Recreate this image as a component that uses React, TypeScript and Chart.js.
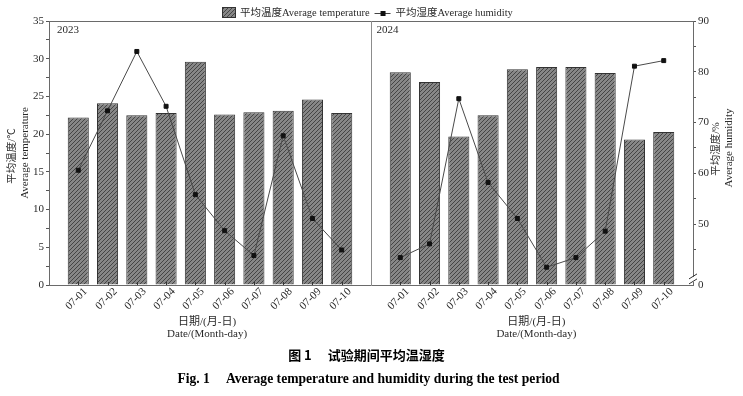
import React, { useEffect, useRef } from 'react';
import { Chart, registerables } from 'chart.js';

Chart.register(...registerables);

// ---- data ----
const dates = ['07-01', '07-02', '07-03', '07-04', '07-05', '07-06', '07-07', '07-08', '07-09', '07-10'];
const years = ['2023', '2024'];
const temp2023 = [22.2, 24.1, 22.5, 22.8, 29.6, 22.6, 22.9, 23.1, 24.6, 22.8];
const temp2024 = [28.2, 26.9, 19.7, 22.5, 28.6, 28.9, 28.9, 28.1, 19.3, 20.3];
const hum2023 = [60.6, 72.3, 84.0, 73.2, 55.8, 48.7, 43.8, 67.4, 51.1, 44.9];
const hum2024 = [43.4, 46.1, 74.7, 58.2, 51.1, 41.5, 43.4, 48.6, 81.1, 82.2];
const humMajorTicks = [50, 60, 70, 80, 90];
const humMinorTicks = [45, 55, 65, 75, 85];
const humBreakValue = 38; // axis is broken; bottom labelled "0"
const tempMax = 35;
const tempStep = 2.5;

const seriesNames = ['平均温度Average temperature', '平均湿度Average humidity'];
const yTitleLeft = ['平均温度/℃', 'Average temperature'];
const yTitleRight = ['平均湿度/%', 'Average humidity'];
const xTitle = ['日期/(月-日)', 'Date/(Month-day)'];

const FONT = '"Liberation Serif", "Noto Sans CJK SC", serif';
const FRAME = '#6a6a6a';
const TEXT = '#2a2a2a';

function makeHatch(): CanvasPattern {
  const c = document.createElement('canvas');
  c.width = 4;
  c.height = 4;
  const g = c.getContext('2d')!;
  g.fillStyle = '#878787';
  g.fillRect(0, 0, 4, 4);
  g.strokeStyle = '#454545';
  g.lineWidth = 1;
  g.beginPath();
  g.moveTo(0, 4);
  g.lineTo(4, 0);
  g.moveTo(-1, 1);
  g.lineTo(1, -1);
  g.moveTo(3, 5);
  g.lineTo(5, 3);
  g.stroke();
  return g.createPattern(c, 'repeat')!;
}

export default function App() {
  const ref = useRef<HTMLCanvasElement>(null);

  useEffect(() => {
    const canvas = ref.current!;
    const hatch = makeHatch();
    const labels = ['', ...dates, '', ...dates, ''];
    const tempData = [null, ...temp2023, null, ...temp2024, null];
    const humData = [null, ...hum2023, null, ...hum2024, null];

    const overlay = {
      id: 'overlay',
      afterDraw(chart: any) {
        const { ctx, chartArea: a, scales } = chart;
        const x = scales.x;
        const y1 = scales.y1;
        ctx.save();
        // top border
        ctx.strokeStyle = FRAME;
        ctx.lineWidth = 1;
        ctx.beginPath();
        ctx.moveTo(a.left, a.top + 0.5);
        ctx.lineTo(a.right, a.top + 0.5);
        ctx.stroke();
        // divider between years
        const divIdx = dates.length + 1;
        const dx = Math.round(x.getPixelForValue(divIdx)) + 0.5;
        ctx.strokeStyle = '#8c8c8c';
        ctx.beginPath();
        ctx.moveTo(dx, a.top);
        ctx.lineTo(dx, a.bottom);
        ctx.stroke();
        // inward x ticks & rotated labels
        ctx.strokeStyle = '#333';
        ctx.fillStyle = TEXT;
        ctx.font = `11px ${FONT}`;
        labels.forEach((lab, i) => {
          if (!lab) return;
          const px = Math.round(x.getPixelForValue(i)) + 0.5;
          ctx.beginPath();
          ctx.moveTo(px, a.bottom);
          ctx.lineTo(px, a.bottom - 3);
          ctx.stroke();
          ctx.save();
          ctx.translate(px - 2, a.bottom + 14);
          ctx.rotate(-Math.PI / 4);
          ctx.textAlign = 'center';
          ctx.textBaseline = 'middle';
          ctx.fillText(lab, 0, 0);
          ctx.restore();
        });
        // year labels
        ctx.textAlign = 'left';
        ctx.textBaseline = 'middle';
        ctx.fillText(years[0], a.left + 8, a.top + 9);
        ctx.fillText(years[1], dx + 5, a.top + 9);
        // x titles (one per panel)
        ctx.textAlign = 'center';
        const centers = [x.getPixelForValue(5.4), x.getPixelForValue(16.65)];
        centers.forEach((cx: number) => {
          ctx.fillText(xTitle[0], cx, a.bottom + 37);
          ctx.fillText(xTitle[1], cx, a.bottom + 49);
        });
        // y titles
        const drawV = (txt: string, cx: number, cy: number, size: number) => {
          ctx.save();
          ctx.font = `${size}px ${FONT}`;
          ctx.translate(cx, cy);
          ctx.rotate(-Math.PI / 2);
          ctx.textAlign = 'center';
          ctx.textBaseline = 'middle';
          ctx.fillText(txt, 0, 0);
          ctx.restore();
        };
        drawV(yTitleLeft[0], 12, 156, 10.5);
        drawV(yTitleLeft[1], 25, 153, 11);
        drawV(yTitleRight[0], 716, 149, 10.5);
        drawV(yTitleRight[1], 729, 148, 11);
        // axis break on right axis
        const rx = a.right;
        const yb = y1.getPixelForValue(humBreakValue + 1.2);
        ctx.fillStyle = '#fff';
        ctx.fillRect(rx - 1.5, yb - 2, 3, 5);
        ctx.strokeStyle = '#333';
        [yb - 2.5, yb + 2.5].forEach((yc: number) => {
          ctx.beginPath();
          ctx.moveTo(rx - 4, yc + 2.5);
          ctx.lineTo(rx + 4, yc - 2.5);
          ctx.stroke();
        });
        // legend
        const ly = 13;
        ctx.font = `10.5px ${FONT}`;
        ctx.fillStyle = hatch;
        ctx.fillRect(222, 7, 14, 11);
        ctx.strokeStyle = '#333';
        ctx.strokeRect(222.5, 7.5, 13, 10);
        ctx.fillStyle = TEXT;
        ctx.textAlign = 'left';
        ctx.textBaseline = 'middle';
        ctx.fillText(seriesNames[0], 240, ly);
        const lx = 240 + ctx.measureText(seriesNames[0]).width + 5;
        ctx.strokeStyle = '#444';
        ctx.beginPath();
        ctx.moveTo(lx, ly + 0.5);
        ctx.lineTo(lx + 16, ly + 0.5);
        ctx.stroke();
        ctx.fillStyle = '#111';
        ctx.fillRect(lx + 6, ly - 2, 5, 5);
        ctx.fillStyle = TEXT;
        ctx.fillText(seriesNames[1], lx + 21, ly);
        ctx.restore();
      },
    };

    const chart = new Chart(canvas, {
      type: 'bar',
      data: {
        labels,
        datasets: [
          {
            type: 'line',
            label: seriesNames[1],
            data: humData,
            yAxisID: 'y1',
            borderColor: '#4a4a4a',
            borderWidth: 1,
            tension: 0,
            spanGaps: false,
            pointStyle: 'rect',
            pointRadius: 2.8,
            pointBorderWidth: 1,
            pointBackgroundColor: '#111',
            pointBorderColor: '#111',
            order: 0,
          } as any,
          {
            type: 'bar',
            label: seriesNames[0],
            data: tempData,
            yAxisID: 'y',
            backgroundColor: hatch,
            borderColor: '#333',
            borderWidth: 1,
            barPercentage: 0.72,
            categoryPercentage: 1,
            order: 1,
          } as any,
        ],
      },
      options: {
        responsive: false,
        animation: false,
        devicePixelRatio: 1,
        layout: { padding: { top: 21, left: 0, right: 0, bottom: 0 } },
        plugins: { legend: { display: false }, tooltip: { enabled: false } },
        scales: {
          x: {
            type: 'category',
            offset: false,
            grid: { display: false, offset: false },
            ticks: { display: false },
            border: { display: true, color: FRAME },
            afterFit: (s: any) => {
              s.height = 111;
            },
          },
          y: {
            type: 'linear',
            position: 'left',
            min: 0,
            max: tempMax,
            ticks: {
              stepSize: tempStep,
              autoSkip: false,
              padding: 2,
              color: TEXT,
              font: { family: FONT, size: 11 },
              callback: (v: any) => (Number(v) % 5 === 0 ? String(v) : ''),
            },
            grid: {
              drawOnChartArea: false,
              drawTicks: true,
              tickLength: 3,
              color: '#555',
            },
            border: { display: true, color: FRAME },
            afterFit: (s: any) => {
              s.width = 49;
            },
          },
          y1: {
            type: 'linear',
            position: 'right',
            min: humBreakValue,
            max: humMajorTicks[humMajorTicks.length - 1],
            afterBuildTicks: (s: any) => {
              const vals = [humBreakValue, ...humMinorTicks, ...humMajorTicks].sort((p, q) => p - q);
              s.ticks = vals.map((v) => ({ value: v }));
            },
            ticks: {
              autoSkip: false,
              padding: 2,
              color: TEXT,
              font: { family: FONT, size: 11 },
              callback: (v: any) => {
                const n = Number(v);
                if (n === humBreakValue) return '0';
                return humMajorTicks.includes(n) ? String(n) : '';
              },
            },
            grid: {
              drawOnChartArea: false,
              drawTicks: true,
              tickLength: 3,
              color: (c: any) => (c.tick && c.tick.value === humBreakValue ? 'rgba(0,0,0,0)' : '#555'),
            },
            border: { display: true, color: FRAME },
            afterFit: (s: any) => {
              s.width = 50;
            },
          },
        },
      },
      plugins: [overlay],
    });
    return () => chart.destroy();
  }, []);

  return (
    <div style={{ position: 'fixed', left: 0, top: 0, width: 743, height: 396, background: '#fff' }}>
      <canvas
        ref={ref}
        width={743}
        height={396}
        style={{ position: 'absolute', left: 0, top: 0, display: 'block' }}
      />
      <div
        style={{
          position: 'absolute',
          left: 0,
          top: 346,
          width: 733,
          textAlign: 'center',
          font: 'bold 13px "Noto Sans CJK SC", sans-serif',
          lineHeight: '18px',
          color: '#000',
          whiteSpace: 'pre',
        }}
      >
        图 1<span style={{ display: 'inline-block', width: 16 }} />试验期间平均温湿度
      </div>
      <div
        style={{
          position: 'absolute',
          left: 0,
          top: 370,
          width: 737,
          textAlign: 'center',
          font: 'bold 13.6px "Liberation Serif", serif',
          lineHeight: '18px',
          color: '#000',
          whiteSpace: 'pre',
        }}
      >
        Fig. 1<span style={{ display: 'inline-block', width: 16 }} />Average temperature and humidity during the test period
      </div>
    </div>
  );
}
